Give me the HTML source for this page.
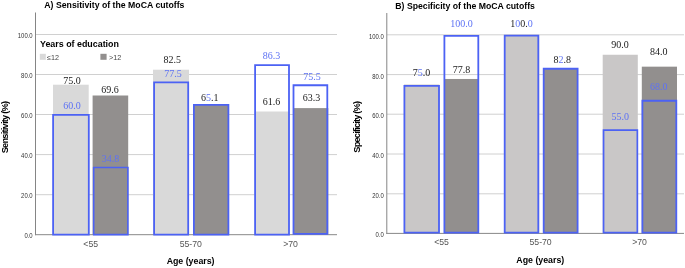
<!DOCTYPE html>
<html><head><meta charset="utf-8"><title>MoCA cutoffs</title>
<style>html,body{margin:0;padding:0;background:#fff;overflow:hidden}</style></head>
<body>
<svg width="685" height="268" viewBox="0 0 685 268" style="display:block">
<rect width="685" height="268" fill="#fff"/>
<line x1="35.5" x2="337" y1="34.5" y2="34.5" stroke="#d0d0d0" stroke-width="1"/>
<line x1="35.5" x2="337" y1="74.5" y2="74.5" stroke="#d0d0d0" stroke-width="1"/>
<line x1="35.5" x2="337" y1="114.5" y2="114.5" stroke="#d0d0d0" stroke-width="1"/>
<line x1="35.5" x2="337" y1="154.6" y2="154.6" stroke="#d0d0d0" stroke-width="1"/>
<line x1="35.5" x2="337" y1="194.7" y2="194.7" stroke="#d0d0d0" stroke-width="1"/>
<rect x="53" y="84.69999999999999" width="35.70" height="150.00" fill="#d9d9d9"/>
<rect x="92.6" y="95.5" width="35.60" height="139.20" fill="#928f8e"/>
<rect x="153.0" y="69.69999999999999" width="36.00" height="165.00" fill="#d9d9d9"/>
<rect x="193.6" y="104.5" width="35.20" height="130.20" fill="#928f8e"/>
<rect x="254.6" y="111.49999999999999" width="34.80" height="123.20" fill="#d9d9d9"/>
<rect x="293.4" y="108.1" width="34.90" height="126.60" fill="#928f8e"/>
<line x1="35.5" x2="35.5" y1="12.5" y2="235.2" stroke="#858585" stroke-width="1"/>
<line x1="35" x2="337" y1="234.7" y2="234.7" stroke="#888" stroke-width="1"/>
<path d="M53.10 234.60V114.85H88.80V234.60Z" fill="none" stroke="#4c62f4" stroke-width="1.8"/>
<path d="M93.70 234.60V167.55H127.90V234.60Z" fill="none" stroke="#4c62f4" stroke-width="1.6"/>
<path d="M154.10 234.60V82.45H188.20V234.60Z" fill="none" stroke="#4c62f4" stroke-width="1.8"/>
<path d="M193.90 234.60V104.95H228.40V234.60Z" fill="none" stroke="#4c62f4" stroke-width="1.8"/>
<path d="M255.10 234.60V65.05H289.00V234.60Z" fill="none" stroke="#4c62f4" stroke-width="1.8"/>
<path d="M293.50 233.80V85.25H327.30V233.80Z" fill="none" stroke="#4c62f4" stroke-width="1.8"/>
<text x="72.00" y="84.30" text-anchor="middle" font-family="'Liberation Serif',serif" font-size="10"><tspan fill="#1a1a1a">75.0</tspan></text>
<text x="72.00" y="109.00" text-anchor="middle" font-family="'Liberation Serif',serif" font-size="10"><tspan fill="#5d72f4">60.0</tspan></text>
<text x="110.00" y="92.80" text-anchor="middle" font-family="'Liberation Serif',serif" font-size="10"><tspan fill="#1a1a1a">69.6</tspan></text>
<text x="110.50" y="162.20" text-anchor="middle" font-family="'Liberation Serif',serif" font-size="10"><tspan fill="#5d72f4">34.8</tspan></text>
<text x="172.30" y="63.20" text-anchor="middle" font-family="'Liberation Serif',serif" font-size="10"><tspan fill="#1a1a1a">82.5</tspan></text>
<text x="173.00" y="76.80" text-anchor="middle" font-family="'Liberation Serif',serif" font-size="10"><tspan fill="#5d72f4">77.5</tspan></text>
<text x="209.70" y="100.50" text-anchor="middle" font-family="'Liberation Serif',serif" font-size="10"><tspan fill="#1a1a1a">6</tspan><tspan fill="#5d72f4">5</tspan><tspan fill="#1a1a1a">.1</tspan></text>
<text x="271.50" y="59.00" text-anchor="middle" font-family="'Liberation Serif',serif" font-size="10"><tspan fill="#5d72f4">86.3</tspan></text>
<text x="271.50" y="105.10" text-anchor="middle" font-family="'Liberation Serif',serif" font-size="10"><tspan fill="#1a1a1a">61.6</tspan></text>
<text x="312.00" y="79.50" text-anchor="middle" font-family="'Liberation Serif',serif" font-size="10"><tspan fill="#5d72f4">75.5</tspan></text>
<text x="311.50" y="100.60" text-anchor="middle" font-family="'Liberation Serif',serif" font-size="10"><tspan fill="#1a1a1a">63.3</tspan></text>
<text transform="translate(32.6 38.25) scale(.87 1)" text-anchor="end" font-family="'Liberation Sans',sans-serif" font-size="6.8" fill="#333">100.0</text>
<text transform="translate(32.6 78.25) scale(.87 1)" text-anchor="end" font-family="'Liberation Sans',sans-serif" font-size="6.8" fill="#333">80.0</text>
<text transform="translate(32.6 118.25) scale(.87 1)" text-anchor="end" font-family="'Liberation Sans',sans-serif" font-size="6.8" fill="#333">60.0</text>
<text transform="translate(32.6 158.35) scale(.87 1)" text-anchor="end" font-family="'Liberation Sans',sans-serif" font-size="6.8" fill="#333">40.0</text>
<text transform="translate(32.6 198.45) scale(.87 1)" text-anchor="end" font-family="'Liberation Sans',sans-serif" font-size="6.8" fill="#333">20.0</text>
<text transform="translate(32.6 238.45) scale(.87 1)" text-anchor="end" font-family="'Liberation Sans',sans-serif" font-size="6.8" fill="#333">0.0</text>
<text x="44.3" y="7.7" font-family="'Liberation Sans',sans-serif" font-size="8.72" font-weight="bold" fill="#000">A) Sensitivity of the MoCA cutoffs</text>
<text x="40" y="46.7" font-family="'Liberation Sans',sans-serif" font-size="8.9" font-weight="bold" fill="#000">Years of education</text>
<rect x="39.8" y="53.8" width="6" height="6" fill="#d9d9d9"/>
<text x="47" y="59.5" font-family="'Liberation Sans',sans-serif" font-size="7.2" fill="#444">≤12</text>
<rect x="100.4" y="53.8" width="6.2" height="6" fill="#928f8e"/>
<text x="109" y="59.5" font-family="'Liberation Sans',sans-serif" font-size="7.2" fill="#444">&gt;12</text>
<text transform="translate(7.9 153.3) rotate(-90)" textLength="52.4" lengthAdjust="spacing" font-family="'Liberation Sans',sans-serif" font-size="9.3" font-weight="bold" fill="#000">Sensitivity (%)</text>
<text x="90.7" y="246.8" text-anchor="middle" font-family="'Liberation Sans',sans-serif" font-size="8.7" fill="#555">&lt;55</text>
<text x="190.8" y="246.8" text-anchor="middle" font-family="'Liberation Sans',sans-serif" font-size="8.7" fill="#555">55-70</text>
<text x="290.6" y="246.8" text-anchor="middle" font-family="'Liberation Sans',sans-serif" font-size="8.7" fill="#555">&gt;70</text>
<text x="190.6" y="264" text-anchor="middle" font-family="'Liberation Sans',sans-serif" font-size="8.8" font-weight="bold" fill="#000">Age (years)</text>
<line x1="387" x2="684" y1="34.8" y2="34.8" stroke="#d0d0d0" stroke-width="1"/>
<line x1="387" x2="684" y1="74.6" y2="74.6" stroke="#d0d0d0" stroke-width="1"/>
<line x1="387" x2="684" y1="114.2" y2="114.2" stroke="#d0d0d0" stroke-width="1"/>
<line x1="387" x2="684" y1="154.0" y2="154.0" stroke="#d0d0d0" stroke-width="1"/>
<line x1="387" x2="684" y1="193.8" y2="193.8" stroke="#d0d0d0" stroke-width="1"/>
<rect x="404" y="84.525" width="35.40" height="148.88" fill="#c9c7c7"/>
<rect x="444.0" y="78.96700000000001" width="34.80" height="154.43" fill="#928f8e"/>
<rect x="504.4" y="34.900000000000006" width="34.80" height="198.50" fill="#c9c7c7"/>
<rect x="543.4" y="69.042" width="34.40" height="164.36" fill="#928f8e"/>
<rect x="602.7" y="54.75" width="35.10" height="178.65" fill="#c9c7c7"/>
<rect x="641.8" y="66.66" width="35.20" height="166.74" fill="#928f8e"/>
<line x1="386.8" x2="386.8" y1="13" y2="233.9" stroke="#858585" stroke-width="1"/>
<line x1="386.3" x2="684" y1="233.4" y2="233.4" stroke="#888" stroke-width="1"/>
<path d="M404.40 232.60V85.85H439.00V232.60Z" fill="none" stroke="#4c62f4" stroke-width="1.8"/>
<path d="M444.40 232.60V35.85H478.30V232.60Z" fill="none" stroke="#4c62f4" stroke-width="1.8"/>
<path d="M504.70 232.60V35.65H538.30V232.60Z" fill="none" stroke="#4c62f4" stroke-width="1.8"/>
<path d="M543.70 232.60V68.75H577.60V232.60Z" fill="none" stroke="#4c62f4" stroke-width="1.8"/>
<path d="M603.55 232.60V130.20H637.35V232.60Z" fill="none" stroke="#4c62f4" stroke-width="1.7"/>
<path d="M642.40 232.60V100.75H676.30V232.60Z" fill="none" stroke="#4c62f4" stroke-width="1.8"/>
<text x="421.50" y="75.70" text-anchor="middle" font-family="'Liberation Serif',serif" font-size="10"><tspan fill="#1a1a1a">7</tspan><tspan fill="#5d72f4">5</tspan><tspan fill="#1a1a1a">.0</tspan></text>
<text x="461.50" y="26.90" text-anchor="middle" font-family="'Liberation Serif',serif" font-size="10"><tspan fill="#5d72f4">100.0</tspan></text>
<text x="461.50" y="72.80" text-anchor="middle" font-family="'Liberation Serif',serif" font-size="10"><tspan fill="#1a1a1a">77.8</tspan></text>
<text x="521.50" y="26.90" text-anchor="middle" font-family="'Liberation Serif',serif" font-size="10"><tspan fill="#1a1a1a">1</tspan><tspan fill="#5d72f4">0</tspan><tspan fill="#1a1a1a">0.</tspan><tspan fill="#5d72f4">0</tspan></text>
<text x="562.20" y="62.80" text-anchor="middle" font-family="'Liberation Serif',serif" font-size="10"><tspan fill="#1a1a1a">8</tspan><tspan fill="#5d72f4">2</tspan><tspan fill="#1a1a1a">.8</tspan></text>
<text x="620.00" y="47.70" text-anchor="middle" font-family="'Liberation Serif',serif" font-size="10"><tspan fill="#1a1a1a">90.0</tspan></text>
<text x="620.30" y="119.90" text-anchor="middle" font-family="'Liberation Serif',serif" font-size="10"><tspan fill="#5d72f4">55.0</tspan></text>
<text x="658.70" y="55.20" text-anchor="middle" font-family="'Liberation Serif',serif" font-size="10"><tspan fill="#1a1a1a">84.0</tspan></text>
<text x="658.70" y="89.50" text-anchor="middle" font-family="'Liberation Serif',serif" font-size="10"><tspan fill="#5d72f4">68.0</tspan></text>
<text transform="translate(383.8 38.70) scale(.87 1)" text-anchor="end" font-family="'Liberation Sans',sans-serif" font-size="6.8" fill="#333">100.0</text>
<text transform="translate(383.8 78.50) scale(.87 1)" text-anchor="end" font-family="'Liberation Sans',sans-serif" font-size="6.8" fill="#333">80.0</text>
<text transform="translate(383.8 118.10) scale(.87 1)" text-anchor="end" font-family="'Liberation Sans',sans-serif" font-size="6.8" fill="#333">60.0</text>
<text transform="translate(383.8 157.90) scale(.87 1)" text-anchor="end" font-family="'Liberation Sans',sans-serif" font-size="6.8" fill="#333">40.0</text>
<text transform="translate(383.8 197.70) scale(.87 1)" text-anchor="end" font-family="'Liberation Sans',sans-serif" font-size="6.8" fill="#333">20.0</text>
<text transform="translate(383.8 237.30) scale(.87 1)" text-anchor="end" font-family="'Liberation Sans',sans-serif" font-size="6.8" fill="#333">0.0</text>
<text x="395.3" y="9" font-family="'Liberation Sans',sans-serif" font-size="8.7" font-weight="bold" fill="#000">B) Specificity of the MoCA cutoffs</text>
<text transform="translate(359.8 152.7) rotate(-90)" textLength="51.8" lengthAdjust="spacing" font-family="'Liberation Sans',sans-serif" font-size="9.3" font-weight="bold" fill="#000">Specificity (%)</text>
<text x="441.5" y="245.3" text-anchor="middle" font-family="'Liberation Sans',sans-serif" font-size="8.7" fill="#555">&lt;55</text>
<text x="540.6" y="245.3" text-anchor="middle" font-family="'Liberation Sans',sans-serif" font-size="8.7" fill="#555">55-70</text>
<text x="639.6" y="245.3" text-anchor="middle" font-family="'Liberation Sans',sans-serif" font-size="8.7" fill="#555">&gt;70</text>
<text x="540.3" y="262.8" text-anchor="middle" font-family="'Liberation Sans',sans-serif" font-size="8.8" font-weight="bold" fill="#000">Age (years)</text>
</svg>
</body></html>
